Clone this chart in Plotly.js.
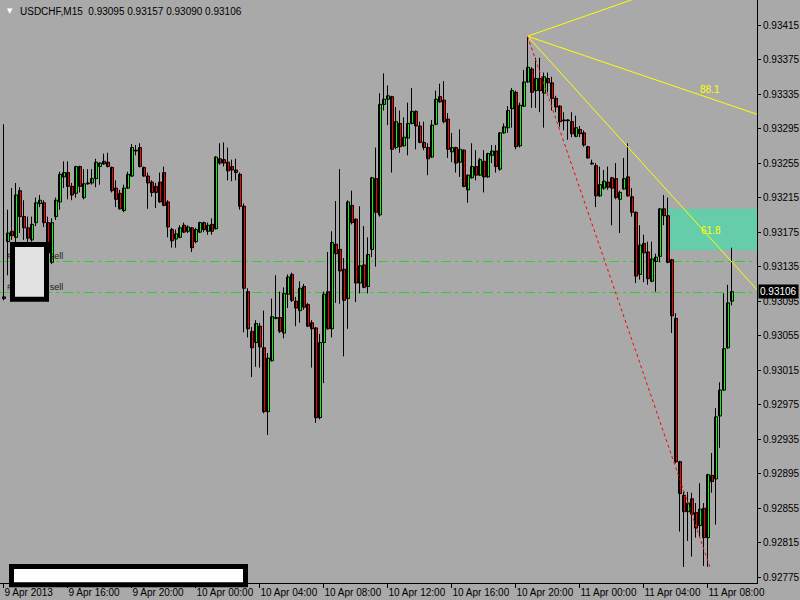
<!DOCTYPE html>
<html><head><meta charset="utf-8">
<script src="https://cdn.plot.ly/plotly-3.0.1.min.js"></script>
<style>html,body{margin:0;padding:0;background:#a9a9a9;}#chart{width:800px;height:600px;}</style>
</head><body><div id="chart"></div>
<script>
// USDCHF M15 bars, 9 Apr 2013 12:00 .. 11 Apr 2013 09:30
const open = [0.93100,0.93164,0.93176,0.93169,0.93223,0.93193,0.93180,0.93166,0.93186,0.93208,
0.93209,0.93186,0.93140,0.93193,0.93210,0.93239,0.93244,0.93228,0.93220,0.93251,
0.93215,0.93232,0.93232,0.93237,0.93251,0.93257,0.93256,0.93250,0.93226,0.93220,
0.93200,0.93226,0.93240,0.93270,0.93273,0.93250,0.93240,0.93233,0.93228,0.93233,
0.93244,0.93210,0.93178,0.93167,0.93169,0.93183,0.93176,0.93180,0.93164,0.93175,
0.93186,0.93176,0.93184,0.93179,0.93260,0.93259,0.93256,0.93251,0.93247,0.93242,
0.93205,0.93106,0.93060,0.93047,0.93066,0.93041,0.92967,0.93026,0.93075,0.93076,
0.93058,0.93103,0.93126,0.93095,0.93084,0.93112,0.93091,0.93070,0.93064,0.92960,
0.93047,0.93106,0.93063,0.93161,0.93155,0.93132,0.93098,0.93206,0.93190,0.93116,
0.93137,0.93112,0.93155,0.93237,0.93195,0.93323,0.93329,0.93332,0.93273,0.93301,
0.93275,0.93284,0.93301,0.93315,0.93298,0.93279,0.93273,0.93262,0.93300,0.93332,
0.93328,0.93306,0.93268,0.93273,0.93256,0.93270,0.93224,0.93238,0.93251,0.93241,
0.93257,0.93239,0.93264,0.93269,0.93248,0.93290,0.93296,0.93318,0.93337,0.93275,
0.93321,0.93349,0.93364,0.93339,0.93353,0.93336,0.93353,0.93348,0.93330,0.93321,
0.93305,0.93305,0.93303,0.93286,0.93294,0.93290,0.93274,0.93255,0.93252,0.93217,
0.93226,0.93233,0.93238,0.93237,0.93213,0.93225,0.93239,0.93216,0.93198,0.93126,
0.93162,0.93152,0.93118,0.93141,0.93147,0.93202,0.93194,0.93143,0.93075,0.92909,
0.92870,0.92851,0.92866,0.92850,0.92835,0.92855,0.92821,0.92893,0.92889,0.92962,
0.92992,0.93041,0.93095];
const high = [0.93300,0.93201,0.93226,0.93232,0.93227,0.93212,0.93193,0.93193,0.93215,0.93218,
0.93212,0.93193,0.93191,0.93215,0.93245,0.93257,0.93257,0.93232,0.93252,0.93252,
0.93248,0.93248,0.93248,0.93260,0.93256,0.93266,0.93267,0.93251,0.93235,0.93224,
0.93230,0.93245,0.93277,0.93276,0.93278,0.93251,0.93244,0.93235,0.93232,0.93244,
0.93251,0.93212,0.93180,0.93178,0.93183,0.93186,0.93183,0.93181,0.93180,0.93187,
0.93187,0.93186,0.93191,0.93263,0.93278,0.93279,0.93273,0.93259,0.93260,0.93244,
0.93208,0.93110,0.93065,0.93073,0.93070,0.93084,0.93035,0.93098,0.93125,0.93106,
0.93111,0.93126,0.93128,0.93100,0.93118,0.93115,0.93093,0.93073,0.93065,0.93057,
0.93106,0.93152,0.93176,0.93211,0.93248,0.93145,0.93212,0.93223,0.93191,0.93205,
0.93182,0.93169,0.93239,0.93273,0.93336,0.93359,0.93345,0.93333,0.93320,0.93316,
0.93308,0.93325,0.93342,0.93316,0.93303,0.93303,0.93278,0.93305,0.93339,0.93347,
0.93350,0.93313,0.93290,0.93274,0.93294,0.93271,0.93242,0.93278,0.93270,0.93261,
0.93270,0.93267,0.93276,0.93276,0.93291,0.93301,0.93321,0.93342,0.93339,0.93325,
0.93363,0.93401,0.93366,0.93377,0.93377,0.93360,0.93360,0.93355,0.93333,0.93322,
0.93314,0.93306,0.93314,0.93310,0.93298,0.93293,0.93275,0.93259,0.93255,0.93251,
0.93247,0.93251,0.93239,0.93255,0.93223,0.93261,0.93278,0.93226,0.93199,0.93183,
0.93172,0.93164,0.93164,0.93150,0.93203,0.93218,0.93215,0.93144,0.93081,0.92910,
0.92874,0.92874,0.92873,0.92861,0.92884,0.92861,0.92895,0.92919,0.92971,0.93001,
0.93104,0.93114,0.93157];
const low = [0.93096,0.93125,0.93166,0.93160,0.93174,0.93166,0.93151,0.93164,0.93182,0.93204,
0.93181,0.93123,0.93138,0.93189,0.93201,0.93226,0.93213,0.93212,0.93215,0.93221,
0.93213,0.93230,0.93230,0.93227,0.93230,0.93253,0.93250,0.93221,0.93204,0.93201,
0.93198,0.93225,0.93239,0.93264,0.93250,0.93239,0.93202,0.93216,0.93203,0.93209,
0.93205,0.93169,0.93157,0.93157,0.93168,0.93174,0.93174,0.93152,0.93162,0.93174,
0.93175,0.93172,0.93172,0.93178,0.93253,0.93251,0.93235,0.93234,0.93235,0.93201,
0.93059,0.93053,0.93007,0.93019,0.93018,0.92965,0.92940,0.93025,0.93074,0.93058,
0.93052,0.93087,0.93094,0.93066,0.93070,0.93085,0.93065,0.93018,0.92954,0.92958,
0.93000,0.93062,0.93053,0.93093,0.93092,0.93031,0.93063,0.93184,0.93094,0.93104,
0.93110,0.93104,0.93146,0.93135,0.93193,0.93316,0.93299,0.93244,0.93271,0.93267,
0.93274,0.93264,0.93300,0.93271,0.93278,0.93270,0.93241,0.93261,0.93299,0.93325,
0.93301,0.93261,0.93256,0.93244,0.93239,0.93227,0.93209,0.93237,0.93235,0.93240,
0.93221,0.93238,0.93255,0.93244,0.93246,0.93289,0.93290,0.93296,0.93271,0.93273,
0.93320,0.93348,0.93319,0.93319,0.93314,0.93296,0.93337,0.93316,0.93314,0.93297,
0.93293,0.93282,0.93285,0.93285,0.93285,0.93274,0.93260,0.93253,0.93204,0.93216,
0.93224,0.93224,0.93183,0.93213,0.93174,0.93224,0.93216,0.93193,0.93116,0.93120,
0.93117,0.93114,0.93117,0.93106,0.93140,0.93183,0.93139,0.93058,0.92907,0.92828,
0.92787,0.92817,0.92799,0.92821,0.92822,0.92788,0.92787,0.92873,0.92836,0.92925,
0.92991,0.93040,0.93090];
const close = [0.93098,0.93174,0.93171,0.93218,0.93193,0.93180,0.93168,0.93184,0.93209,0.93212,
0.93186,0.93151,0.93186,0.93212,0.93242,0.93244,0.93228,0.93218,0.93251,0.93228,
0.93231,0.93231,0.93237,0.93256,0.93255,0.93254,0.93251,0.93223,0.93213,0.93202,
0.93226,0.93242,0.93273,0.93269,0.93251,0.93240,0.93232,0.93221,0.93221,0.93210,
0.93206,0.93181,0.93165,0.93173,0.93180,0.93175,0.93181,0.93157,0.93178,0.93186,
0.93178,0.93183,0.93176,0.93262,0.93255,0.93255,0.93246,0.93247,0.93244,0.93205,
0.93110,0.93063,0.93041,0.93069,0.93042,0.92967,0.93029,0.93077,0.93076,0.93060,
0.93104,0.93123,0.93096,0.93087,0.93110,0.93088,0.93066,0.93063,0.92960,0.93047,
0.93103,0.93063,0.93163,0.93150,0.93130,0.93096,0.93210,0.93186,0.93116,0.93136,
0.93111,0.93149,0.93238,0.93198,0.93323,0.93329,0.93333,0.93271,0.93303,0.93274,
0.93285,0.93301,0.93315,0.93298,0.93279,0.93273,0.93260,0.93299,0.93329,0.93326,
0.93303,0.93271,0.93273,0.93255,0.93271,0.93228,0.93241,0.93251,0.93241,0.93259,
0.93239,0.93266,0.93269,0.93251,0.93290,0.93297,0.93316,0.93339,0.93274,0.93322,
0.93349,0.93366,0.93337,0.93353,0.93339,0.93355,0.93348,0.93330,0.93320,0.93303,
0.93304,0.93304,0.93289,0.93296,0.93289,0.93276,0.93261,0.93254,0.93217,0.93230,
0.93234,0.93227,0.93226,0.93215,0.93221,0.93237,0.93217,0.93198,0.93124,0.93160,
0.93151,0.93121,0.93144,0.93146,0.93202,0.93194,0.93140,0.93078,0.92909,0.92872,
0.92851,0.92861,0.92848,0.92832,0.92854,0.92821,0.92894,0.92886,0.92961,0.92992,
0.93040,0.93093,0.93106];

const timeTickIdx = [0,16,32,48,64,80,96,112,128,144,160,176];
const timeTickText = ['9 Apr 2013','9 Apr 16:00','9 Apr 20:00','10 Apr 00:00','10 Apr 04:00','10 Apr 08:00',
  '10 Apr 12:00','10 Apr 16:00','10 Apr 20:00','11 Apr 00:00','11 Apr 04:00','11 Apr 08:00'];
const priceTicks = [0.92775,0.92815,0.92855,0.92895,0.92935,0.92975,0.93015,0.93055,0.93095,
  0.93135,0.93175,0.93215,0.93255,0.93295,0.93335,0.93375,0.93415];
const orderLevels = [0.93141, 0.93105];
const orderLabels = ['#5739124 sell', '#5739138 sell'];
const zoneBox = {x0: 165.5, x1: 195, y0: 0.93154, y1: 0.93202};
const fanOrigin = [131, 0.93402];
const fanEnds = [[160, 0.93449], [190, 0.93309], [190, 0.93100]];
const fanLabels = [['88.1', 176.6, 0.93340], ['61.8', 176.9, 0.93177]];
const trendEnd = [176.6, 0.92787];

const idx = open.map((_, i) => i);
const last = open.length - 1;
const FONT = 'Liberation Sans, Arial, sans-serif';

// wicks (drawn first, bodies cover them)
const wx = [], wy = [];
idx.forEach(i => { wx.push(i, i, null); wy.push(low[i], high[i], null); });
const wicks = {type: 'scatter', mode: 'lines', x: wx, y: wy, line: {color: '#000000', width: 1},
  hoverinfo: 'none', showlegend: false, connectgaps: false};

function bodyTrace(up, fill) {
  const sel = idx.filter(i => up ? close[i] >= open[i] : close[i] < open[i]);
  return {type: 'bar', x: sel, base: sel.map(i => Math.min(open[i], close[i])),
    y: sel.map(i => Math.max(Math.abs(close[i] - open[i]), 1e-7)), width: 0.75, offset: -0.25,
    marker: {color: fill, line: {color: '#000000', width: 1}}, hoverinfo: 'none', showlegend: false};
}
const bullBodies = bodyTrace(true, '#00ff00');
const bearBodies = bodyTrace(false, '#ff0000');

const orderText = {
  type: 'scatter', mode: 'text', x: orderLevels.map(() => 0.9), y: orderLevels,
  text: orderLabels, textposition: 'top right', cliponaxis: false, hoverinfo: 'none', showlegend: false,
  textfont: {family: FONT, size: 9, color: '#202020'}
};

const shapes = [];
shapes.push({type: 'rect', xref: 'x', yref: 'y', x0: zoneBox.x0, x1: zoneBox.x1, y0: zoneBox.y0, y1: zoneBox.y1,
  fillcolor: '#66cdaa', line: {width: 0}, layer: 'below'});
orderLevels.forEach(v => shapes.push({type: 'line', xref: 'paper', yref: 'y', x0: 0, x1: 1, y0: v, y1: v,
  line: {color: '#32cd32', width: 1, dash: '10px,4px,3px,4px'}, layer: 'below'}));
fanEnds.forEach(e => shapes.push({type: 'line', xref: 'x', yref: 'y', x0: fanOrigin[0], y0: fanOrigin[1], x1: e[0], y1: e[1],
  line: {color: '#ffff00', width: 1}}));
shapes.push({type: 'line', xref: 'x', yref: 'y', x0: fanOrigin[0], y0: fanOrigin[1], x1: trendEnd[0], y1: trendEnd[1],
  line: {color: '#ff0000', width: 1, dash: 'dot'}});
// redaction boxes
const W = 757, H = 583;
function pbox(x0, y0, x1, y1, fill) {
  return {type: 'rect', xref: 'paper', yref: 'paper', x0: x0 / W, x1: x1 / W, y0: 1 - y0 / H, y1: 1 - y1 / H,
    fillcolor: fill, line: {color: '#000000', width: 5}, layer: 'above'};
}
shapes.push(pbox(12.5, 244.5, 46.5, 299.2, '#e2e2e2'));
shapes.push(pbox(11.5, 566.5, 245.5, 584.8, '#ffffff'));

const annotations = [];
fanLabels.forEach(l => annotations.push({xref: 'x', yref: 'y', x: l[1], y: l[2], text: l[0], showarrow: false,
  font: {family: FONT, size: 10, color: '#ffff00'}}));
annotations.push({xref: 'paper', yref: 'y', x: 1, xanchor: 'left', xshift: 1, y: close[last], text: close[last].toFixed(5),
  showarrow: false, bgcolor: '#000000', borderpad: 1, font: {family: FONT, size: 10, color: '#ffffff'}});
annotations.push({xref: 'paper', yref: 'paper', x: 18 / W, y: 1, xanchor: 'left', yanchor: 'top', yshift: -4,
  text: 'USDCHF,M15\u00a0\u00a0' + [open[last], high[last], low[last], close[last]].map(v => v.toFixed(5)).join(' '),
  showarrow: false, font: {family: FONT, size: 10, color: '#000000'}});
annotations.push({xref: 'paper', yref: 'paper', x: 9.5 / W, xanchor: 'center', y: 1, yanchor: 'top', yshift: -5, text: '\u25bc',
  showarrow: false, font: {family: 'DejaVu Sans', size: 7, color: '#ffffff'}});

const layout = {
  width: 800, height: 600, margin: {l: 0, r: 43, t: 0, b: 17},
  paper_bgcolor: '#a9a9a9', plot_bgcolor: '#a9a9a9', showlegend: false,
  barmode: 'overlay', bargap: 0, bargroupgap: 0,
  xaxis: {type: 'linear', range: [-0.875, 188.375], showgrid: false, zeroline: false,
    showline: true, linecolor: '#000000', linewidth: 1, ticks: 'outside', ticklen: 4, tickcolor: '#000000',
    tickvals: timeTickIdx, ticktext: timeTickText, ticklabelposition: 'outside right', tickangle: 0,
    tickfont: {family: FONT, size: 10, color: '#000000'}, fixedrange: true},
  yaxis: {side: 'right', range: [0.927684, 0.934440], showgrid: false, zeroline: false,
    showline: true, linecolor: '#000000', linewidth: 1, ticks: 'outside', ticklen: 3, tickcolor: '#000000',
    tickvals: priceTicks, ticktext: priceTicks.map(v => v.toFixed(5)),
    tickfont: {family: FONT, size: 10, color: '#000000'}, fixedrange: true},
  shapes: shapes, annotations: annotations
};
Plotly.newPlot('chart', [wicks, bullBodies, bearBodies, orderText], layout, {staticPlot: true, displayModeBar: false});
</script>
</body></html>
